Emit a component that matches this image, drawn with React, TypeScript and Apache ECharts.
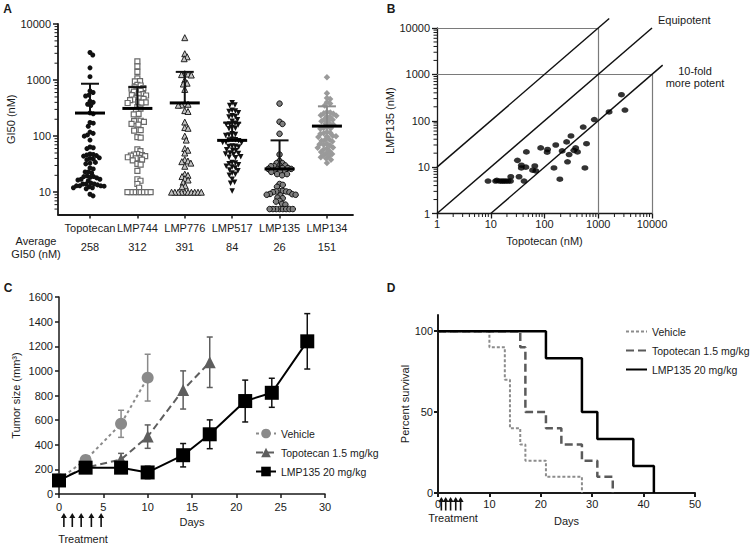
import React, { useEffect, useRef } from 'react';
import * as echarts from 'echarts';

const FONT = '"Liberation Sans", Arial, Helvetica, sans-serif';
const INK = '#1a1a1a';

// ---------- Panel A ----------
const drugNames = ['Topotecan', 'LMP744', 'LMP776', 'LMP517', 'LMP135', 'LMP134'];
const avgGI50 = [258, 312, 391, 84, 26, 151];
const sdUpper = [860, 750, 1400, 174, 84, 340];
const gi50Topotecan = [3100, 2800, 1650, 1150, 640, 600, 540, 520, 420, 400, 370, 350, 260, 250, 175, 170, 150, 118, 112, 105, 100, 85, 64, 62, 60, 48, 47, 46, 45, 44, 41, 40, 39, 38, 34, 33, 32, 27, 26, 23, 23, 22, 19.5, 19, 19, 18.5, 18, 17, 17, 16.5, 16, 14.5, 14, 14, 14, 13.5, 13, 13, 13, 12.8, 12.5, 12, 12, 11.5, 9.2, 8.6];
const gi50LMP744 = [2150, 1750, 1400, 1070, 960, 950, 820, 800, 740, 720, 700, 650, 640, 620, 560, 550, 540, 530, 480, 470, 460, 450, 440, 410, 400, 395, 390, 330, 310, 280, 250, 245, 190, 188, 185, 180, 165, 160, 130, 128, 125, 96, 94, 58, 54, 48, 47, 46, 45, 44, 42, 41, 40, 38, 37, 32, 31, 24, 17, 16, 14, 12, 10, 10, 10, 10, 10, 10, 10, 10];
const gi50LMP776 = [5700, 2950, 2600, 2400, 1300, 1280, 1250, 1230, 1000, 880, 850, 680, 380, 370, 360, 355, 285, 275, 178, 142, 138, 100, 85, 60, 56, 50, 38, 36, 35, 33, 29, 21, 20, 19, 17.5, 16.5, 15, 13, 12.5, 10, 10, 10, 10, 10, 10, 10, 10, 10, 10];
const gi50LMP517 = [395, 360, 350, 290, 280, 275, 260, 230, 225, 220, 195, 185, 170, 165, 162, 158, 142, 138, 135, 110, 107, 105, 103, 88, 86, 85, 83, 78, 77, 76, 67, 66, 65, 64, 57, 56, 55, 50, 49, 48, 47, 43, 42, 41, 34, 33, 32, 31, 29, 28, 27, 25, 24, 22, 21, 20, 17, 15, 14.5, 10.5];
const gi50LMP135 = [380, 180, 165, 110, 47, 36, 33, 33, 30, 30, 29, 29, 27, 27, 26, 26, 26, 24, 24, 23, 23, 21, 21, 20, 14, 13.5, 12.5, 10.5, 10.5, 10.3, 10.3, 10, 10, 9.3, 9.2, 9, 9, 8.8, 8, 7.8, 7, 6.8, 6.2, 6, 5, 5, 5, 5, 5, 5, 5, 5];
const gi50LMP134 = [1120, 580, 480, 460, 400, 380, 350, 270, 265, 255, 250, 235, 230, 225, 220, 200, 195, 190, 185, 168, 165, 160, 142, 140, 138, 135, 118, 115, 112, 110, 102, 100, 98, 96, 87, 85, 83, 80, 73, 72, 70, 68, 63, 62, 60, 58, 54, 52, 50, 48, 46, 44, 42, 40, 38, 33];
const gi50Groups = [gi50Topotecan, gi50LMP744, gi50LMP776, gi50LMP517, gi50LMP135, gi50LMP134];
const decadeTicksA = [10, 100, 1000, 10000];
const minorTicksA = [5, 6, 7, 8, 9, 20, 30, 40, 50, 60, 70, 80, 90, 200, 300, 400, 500, 600, 700, 800, 900, 2000, 3000, 4000, 5000, 6000, 7000, 8000, 9000];

// ---------- Panel B ----------
const topotecanNM = [8.9, 12.3, 13, 14.6, 16, 17.4, 19, 21, 23.3, 23.6, 33.6, 31.4, 37, 37.2, 41.7, 45, 46, 60, 69, 66, 85, 112, 114, 150, 162, 193, 213, 258, 268, 287, 311, 352, 380, 411, 525, 565, 605, 845, 1590, 2700, 3140];
const lmp135NM = [5, 5, 5.2, 5, 5, 5, 5, 5, 5, 6.2, 6.2, 14, 9.6, 11, 5, 10, 21.3, 8.6, 8.3, 10.6, 26, 21, 24, 9.6, 30, 5.5, 22.4, 35, 13, 18.7, 47, 23, 26, 21.3, 73, 9.6, 32, 106, 155, 365, 170];
const decadeTicksB = [1, 10, 100, 1000, 10000];
const minorTicksB = [2, 3, 4, 5, 6, 7, 8, 9, 20, 30, 40, 50, 60, 70, 80, 90, 200, 300, 400, 500, 600, 700, 800, 900, 2000, 3000, 4000, 5000, 6000, 7000, 8000, 9000];
const refLinesB = [
  [[1, 1000], [10000, 1000]],
  [[1000, 1], [1000, 10000]],
  [[1, 10000], [1000, 10000]],
  [[10000, 1], [10000, 1000]],
];
const diagonalsB = [
  [[1, 10], [1600, 16000]],
  [[1, 1], [10000, 10000]],
  [[10, 1], [15800, 1580]],
];

// ---------- Panel C ----------
const tumorSeriesNames = ['Vehicle', 'Topotecan 1.5 mg/kg', 'LMP135 20 mg/kg'];
const vehicleDays = [0, 3, 7, 10];
const vehicleMean = [120, 276, 570, 945];
const vehicleErr = [15, 30, 110, 190];
const topoDays = [0, 3, 7, 10, 14, 17];
const topoMean = [120, 214, 280, 466, 845, 1070];
const topoErr = [15, 20, 50, 95, 155, 205];
const lmpDays = [0, 3, 7, 10, 14, 17, 21, 24, 28];
const lmpMean = [110, 214, 214, 175, 315, 485, 755, 822, 1240];
const lmpErr = [15, 20, 30, 50, 95, 117, 170, 118, 225];
const treatmentDays = [0.55, 1.5, 2.5, 3.65, 4.75];

// ---------- Panel D ----------
const vehicleSurvDays = [0, 10, 13, 14, 16, 17, 21, 28];
const vehicleSurv = [100, 90, 70, 40, 30, 20, 10, 0];
const topoSurvDays = [0, 16, 17, 21, 24, 28, 31, 34];
const topoSurv = [100, 90, 50, 40, 30, 20, 10, 0];
const lmpSurvDays = [0, 21, 28, 31, 38, 42];
const lmpSurv = [100, 83.3, 50, 33.3, 16.7, 0];
const treatmentDaysD = [0.65, 1.5, 2.45, 3.45, 4.4];
const survTicks = [0, 50, 100];

// beeswarm x-offsets (layout only), in category units; elliptical collision rx/ry in px
function swarm(values: number[], pxPerDecade: number, pxPerUnit: number, rx: number, ry: number): number[] {
  const order = values.map((_, i) => i).sort((a, b) => values[b] - values[a]);
  const placed: { x: number; y: number }[] = [];
  const out: number[] = new Array(values.length).fill(0);
  const hit = (p: { x: number; y: number }, x: number, y: number) =>
    ((p.x - x) / rx) ** 2 + ((p.y - y) / ry) ** 2 < 0.999;
  for (const i of order) {
    const y = Math.log10(values[i]) * pxPerDecade;
    const cands = [0];
    for (const p of placed) {
      const dy = Math.abs(p.y - y);
      if (dy < ry) {
        const dx = rx * Math.sqrt(1 - (dy / ry) ** 2);
        cands.push(p.x + dx + 0.01, p.x - dx - 0.01);
      }
    }
    cands.sort((a, b) => Math.abs(a) - Math.abs(b));
    let x = 0;
    for (const c of cands) {
      if (placed.every((p) => !hit(p, c, y))) {
        x = c;
        break;
      }
    }
    placed.push({ x, y });
    out[i] = x / pxPerUnit;
  }
  return out;
}

const zip = (a: number[], b: number[]) => a.map((v, i) => [v, b[i]]);
const zip3 = (a: number[], b: number[], c: number[]) => a.map((v, i) => [v, b[i], c[i]]);

const axisBase = (w = 1.5) => ({
  axisLine: { show: true, onZero: false, lineStyle: { color: INK, width: w } },
  axisTick: { show: true, length: 4, lineStyle: { color: INK, width: w } },
  axisLabel: { color: INK, fontSize: 11, fontFamily: FONT },
  splitLine: { show: false },
  nameTextStyle: { color: INK, fontSize: 11, fontFamily: FONT },
});

// minor log ticks drawn through the axis scale
const minorTickSeries = (xi: number, yi: number, values: number[], dir: 'x' | 'y', base: number) => ({
  type: 'custom',
  xAxisIndex: xi,
  yAxisIndex: yi,
  clip: false,
  silent: true,
  z: 1,
  data: values.map((v) => (dir === 'y' ? [base, v] : [v, base])),
  encode: { x: 0, y: 1 },
  renderItem: (params: any, api: any) => {
    const p = api.coord([api.value(0), api.value(1)]);
    return dir === 'y'
      ? { type: 'line', shape: { x1: p[0] - 3.5, y1: p[1], x2: p[0], y2: p[1] }, style: { stroke: INK, lineWidth: 1 } }
      : { type: 'line', shape: { x1: p[0], y1: p[1], x2: p[0], y2: p[1] + 3.5 }, style: { stroke: INK, lineWidth: 1 } };
  },
});

export default function App() {
  const ref = useRef<HTMLDivElement>(null);
  useEffect(() => {
    if (!ref.current) return;
    const chart = echarts.init(ref.current, null, { renderer: 'svg', width: 750, height: 545 });

    const groupStyles = [
      { symbol: 'circle', size: 5, color: '#111', border: '#111', bw: 0, rot: 0 },
      { symbol: 'rect', size: 5, color: '#fff', border: '#6a6a6a', bw: 1.2, rot: 0 },
      { symbol: 'triangle', size: 6, color: '#c4c4c4', border: '#222', bw: 1, rot: 0 },
      { symbol: 'triangle', size: 5.5, color: '#111', border: '#111', bw: 0, rot: 180 },
      { symbol: 'circle', size: 5.5, color: '#808080', border: '#111', bw: 1, rot: 0 },
      { symbol: 'diamond', size: 6.5, color: '#9a9a9a', border: '#9a9a9a', bw: 0, rot: 0 },
    ];

    const scatterA = gi50Groups.map((vals, gi) => {
      const offs = swarm(vals, 56, 47.4, 3.3, 4.4);
      const st = groupStyles[gi];
      return {
        type: 'scatter',
        xAxisIndex: 0,
        yAxisIndex: 0,
        symbol: st.symbol,
        symbolSize: st.size,
        symbolRotate: st.rot,
        itemStyle: { color: st.color, borderColor: st.border, borderWidth: st.bw, opacity: 1 },
        data: vals.map((v, i) => [gi + offs[i], v]),
        z: 3,
      };
    });

    const errA = {
      type: 'custom',
      xAxisIndex: 0,
      yAxisIndex: 0,
      z: 5,
      clip: false,
      data: drugNames.map((_, i) => [i, avgGI50[i], sdUpper[i]]),
      encode: { x: 0, y: 1 },
      renderItem: (params: any, api: any) => {
        const i = api.value(0);
        const pm = api.coord([i, api.value(1)]);
        const pu = api.coord([i, api.value(2)]);
        const c = i === 5 ? '#8c8c8c' : '#111';
        return {
          type: 'group',
          children: [
            { type: 'line', shape: { x1: pm[0], y1: pm[1], x2: pu[0], y2: pu[1] }, style: { stroke: c, lineWidth: 2 } },
            { type: 'line', shape: { x1: pu[0] - 9, y1: pu[1], x2: pu[0] + 9, y2: pu[1] }, style: { stroke: c, lineWidth: 2 } },
            { type: 'line', shape: { x1: pm[0] - 15, y1: pm[1], x2: pm[0] + 15, y2: pm[1] }, style: { stroke: '#000', lineWidth: 3 } },
          ],
        };
      },
    };

    const errSeries = (days: number[], mean: number[], err: number[], color: string) => ({
      type: 'custom',
      xAxisIndex: 2,
      yAxisIndex: 2,
      z: 2,
      clip: false,
      data: zip3(days, mean, err),
      encode: { x: 0, y: 1 },
      renderItem: (params: any, api: any) => {
        const x = api.value(0), m = api.value(1), e = api.value(2);
        const top = api.coord([x, m + e]);
        const bot = api.coord([x, m - e]);
        return {
          type: 'group',
          children: [
            { type: 'line', shape: { x1: top[0], y1: top[1], x2: bot[0], y2: bot[1] }, style: { stroke: color, lineWidth: 1.5 } },
            { type: 'line', shape: { x1: top[0] - 3, y1: top[1], x2: top[0] + 3, y2: top[1] }, style: { stroke: color, lineWidth: 1.5 } },
            { type: 'line', shape: { x1: bot[0] - 3, y1: bot[1], x2: bot[0] + 3, y2: bot[1] }, style: { stroke: color, lineWidth: 1.5 } },
          ],
        };
      },
    });

    const arrowSeries = (xi: number, yi: number, days: number[], top: number, bottom: number) => ({
      type: 'custom',
      xAxisIndex: xi,
      yAxisIndex: yi,
      clip: false,
      z: 10,
      data: days.map((d) => [d, 0]),
      encode: { x: 0, y: 1 },
      renderItem: (params: any, api: any) => {
        const p = api.coord([api.value(0), 0]);
        const x = p[0], y = p[1];
        return {
          type: 'group',
          children: [
            { type: 'line', shape: { x1: x, y1: y + top + 3, x2: x, y2: y + bottom }, style: { stroke: '#111', lineWidth: 1.6 } },
            { type: 'polygon', shape: { points: [[x, y + top], [x - 3, y + top + 5], [x + 3, y + top + 5]] }, style: { fill: '#111' } },
          ],
        };
      },
    });

    const option: any = {
      animation: false,
      backgroundColor: '#fff',
      textStyle: { fontFamily: FONT },
      grid: [
        { left: 58, top: 24, width: 295, height: 190.5 },
        { left: 437, top: 28, width: 215, height: 185.5 },
        { left: 59, top: 297, width: 266, height: 197 },
        { left: 438, top: 315, width: 257, height: 178 },
      ],
      xAxis: [
        {
          ...axisBase(1.8),
          gridIndex: 0,
          type: 'value',
          min: -0.675,
          max: 5.55,
          axisTick: { show: true, length: 4, customValues: drugNames.map((_, i) => i), lineStyle: { color: INK, width: 1.5 } },
          axisLabel: {
            customValues: drugNames.map((_, i) => i),
            margin: 6,
            formatter: (v: number) => `{n|${drugNames[Math.round(v)]}}\n{m|${avgGI50[Math.round(v)]}}`,
            rich: {
              n: { fontSize: 11, lineHeight: 14, fontFamily: FONT, color: INK },
              m: { fontSize: 11, lineHeight: 24, fontFamily: FONT, color: INK },
            },
          },
        },
        {
          ...axisBase(1.3),
          gridIndex: 1,
          type: 'log',
          logBase: 10,
          min: 1,
          max: 10000,
          name: 'Topotecan (nM)',
          nameLocation: 'middle',
          nameGap: 22,
          axisTick: { show: true, length: 5, customValues: decadeTicksB, lineStyle: { color: INK, width: 1.3 } },
          axisLabel: { color: INK, fontSize: 11, fontFamily: FONT, margin: 5, customValues: decadeTicksB, formatter: (v: number) => String(v) },
        },
        {
          ...axisBase(1.5),
          gridIndex: 2,
          type: 'value',
          min: 0,
          max: 30,
          interval: 5,
          name: 'Days',
          nameLocation: 'middle',
          nameGap: 22,
          axisLabel: { color: INK, fontSize: 11, fontFamily: FONT, margin: 7 },
        },
        {
          ...axisBase(2),
          gridIndex: 3,
          type: 'value',
          min: 0,
          max: 50,
          interval: 10,
          name: 'Days',
          nameLocation: 'middle',
          nameGap: 22,
          axisLabel: { color: INK, fontSize: 11, fontFamily: FONT, margin: 5 },
        },
      ],
      yAxis: [
        {
          ...axisBase(1.8),
          gridIndex: 0,
          type: 'log',
          logBase: 10,
          min: 4,
          max: 10000,
          name: 'GI50 (nM)',
          nameLocation: 'middle',
          nameGap: 38,
          axisTick: { show: true, length: 5, customValues: decadeTicksA, lineStyle: { color: INK, width: 1.5 } },
          axisLabel: { color: INK, fontSize: 11, fontFamily: FONT, margin: 7, customValues: decadeTicksA, formatter: (v: number) => String(v) },
        },
        {
          ...axisBase(1.3),
          gridIndex: 1,
          type: 'log',
          logBase: 10,
          min: 1,
          max: 10000,
          name: 'LMP135 (nM)',
          nameLocation: 'middle',
          nameGap: 25,
          axisTick: { show: true, length: 5, customValues: decadeTicksB, lineStyle: { color: INK, width: 1.3 } },
          axisLabel: { color: INK, fontSize: 11, fontFamily: FONT, margin: 7, customValues: decadeTicksB, formatter: (v: number) => String(v) },
        },
        {
          ...axisBase(1.5),
          gridIndex: 2,
          type: 'value',
          min: 0,
          max: 1600,
          interval: 200,
          name: 'Tumor size (mm³)',
          nameLocation: 'middle',
          nameGap: 38,
          axisLabel: { color: INK, fontSize: 11, fontFamily: FONT, margin: 6, formatter: (v: number) => String(v) },
        },
        {
          ...axisBase(2),
          gridIndex: 3,
          type: 'value',
          min: 0,
          max: 110,
          name: 'Percent survival',
          nameLocation: 'middle',
          nameGap: 24,
          axisTick: { show: true, length: 4, customValues: survTicks, lineStyle: { color: INK, width: 2 } },
          axisLabel: { color: INK, fontSize: 11, fontFamily: FONT, margin: 5, customValues: survTicks },
        },
      ],
      legend: [
        {
          data: tumorSeriesNames,
          orient: 'vertical',
          left: 255,
          top: 428,
          padding: 0,
          itemWidth: 20,
          itemHeight: 12,
          itemGap: 8,
          selectedMode: false,
          textStyle: { color: INK, fontSize: 10.5, fontFamily: FONT },
        },
        {
          data: tumorSeriesNames.map((n) => 'D:' + n),
          orient: 'vertical',
          left: 625,
          top: 326,
          padding: 0,
          itemWidth: 21,
          itemHeight: 10,
          itemGap: 8,
          selectedMode: false,
          formatter: (n: string) => n.replace(/^D:/, ''),
          itemStyle: { color: 'rgba(0,0,0,0)', borderColor: 'rgba(0,0,0,0)', borderWidth: 0 },
          textStyle: { color: INK, fontSize: 10.5, fontFamily: FONT },
        },
      ],
      series: [
        ...scatterA,
        errA,
        minorTickSeries(0, 0, minorTicksA, 'y', -0.675),
        // Panel B
        minorTickSeries(1, 1, minorTicksB, 'y', 1),
        minorTickSeries(1, 1, minorTicksB, 'x', 1),
        {
          type: 'lines',
          coordinateSystem: 'cartesian2d',
          xAxisIndex: 1,
          yAxisIndex: 1,
          clip: false,
          lineStyle: { color: '#7a7a7a', width: 1.2, opacity: 1 },
          data: refLinesB.map((c) => ({ coords: c })),
          z: 1,
        },
        {
          type: 'lines',
          coordinateSystem: 'cartesian2d',
          xAxisIndex: 1,
          yAxisIndex: 1,
          clip: false,
          lineStyle: { color: '#111', width: 1.5, opacity: 1 },
          data: diagonalsB.map((c) => ({ coords: c })),
          z: 2,
        },
        {
          type: 'scatter',
          xAxisIndex: 1,
          yAxisIndex: 1,
          symbol: 'circle',
          symbolSize: [7, 5.5],
          itemStyle: { color: '#000' },
          data: zip(topotecanNM, lmp135NM),
          z: 3,
        },
        // Panel C
        errSeries(vehicleDays, vehicleMean, vehicleErr, '#8a8a8a'),
        errSeries(topoDays, topoMean, topoErr, '#5e5e5e'),
        errSeries(lmpDays, lmpMean, lmpErr, '#111'),
        {
          name: tumorSeriesNames[0],
          type: 'line',
          xAxisIndex: 2,
          yAxisIndex: 2,
          symbol: 'circle',
          symbolSize: 12,
          color: '#8a8a8a',
          itemStyle: { color: '#8a8a8a' },
          lineStyle: { color: '#8a8a8a', width: 2, type: [3, 3] },
          data: zip(vehicleDays, vehicleMean),
          z: 4,
        },
        {
          name: tumorSeriesNames[1],
          type: 'line',
          xAxisIndex: 2,
          yAxisIndex: 2,
          symbol: 'triangle',
          symbolSize: 12,
          color: '#5e5e5e',
          itemStyle: { color: '#5e5e5e' },
          lineStyle: { color: '#5e5e5e', width: 2, type: [7, 4] },
          data: zip(topoDays, topoMean),
          z: 4,
        },
        {
          name: tumorSeriesNames[2],
          type: 'line',
          xAxisIndex: 2,
          yAxisIndex: 2,
          symbol: 'rect',
          symbolSize: 14,
          color: '#000',
          itemStyle: { color: '#000' },
          lineStyle: { color: '#000', width: 2 },
          data: zip(lmpDays, lmpMean),
          z: 5,
        },
        arrowSeries(2, 2, treatmentDays, 19, 33),
        // Panel D
        {
          name: 'D:' + tumorSeriesNames[0],
          type: 'line',
          xAxisIndex: 3,
          yAxisIndex: 3,
          step: 'end',
          symbol: 'none',
          color: '#8c8c8c',
          lineStyle: { color: '#8c8c8c', width: 2, type: [3, 2] },
          data: zip(vehicleSurvDays, vehicleSurv),
          z: 3,
        },
        {
          name: 'D:' + tumorSeriesNames[1],
          type: 'line',
          xAxisIndex: 3,
          yAxisIndex: 3,
          step: 'end',
          symbol: 'none',
          color: '#5a5a5a',
          lineStyle: { color: '#5a5a5a', width: 2.5, type: [8, 4] },
          data: zip(topoSurvDays, topoSurv),
          z: 3,
        },
        {
          name: 'D:' + tumorSeriesNames[2],
          type: 'line',
          xAxisIndex: 3,
          yAxisIndex: 3,
          step: 'end',
          symbol: 'none',
          color: '#000',
          lineStyle: { color: '#000', width: 2.5 },
          data: zip(lmpSurvDays, lmpSurv),
          z: 4,
        },
        arrowSeries(3, 3, treatmentDaysD, 4, 17.5),
      ],
      graphic: [
        { type: 'text', x: 7.5, y: 8.5, style: { text: 'A', font: `bold 12px ${FONT}`, fill: INK, textAlign: 'center', textVerticalAlign: 'middle' } },
        { type: 'text', x: 391, y: 9, style: { text: 'B', font: `bold 12px ${FONT}`, fill: INK, textAlign: 'center', textVerticalAlign: 'middle' } },
        { type: 'text', x: 8, y: 287.5, style: { text: 'C', font: `bold 12px ${FONT}`, fill: INK, textAlign: 'center', textVerticalAlign: 'middle' } },
        { type: 'text', x: 391, y: 287.5, style: { text: 'D', font: `bold 12px ${FONT}`, fill: INK, textAlign: 'center', textVerticalAlign: 'middle' } },
        { type: 'text', x: 36, y: 247.5, style: { text: 'Average\nGI50 (nM)', font: `11px ${FONT}`, lineHeight: 13.5, fill: INK, textAlign: 'center', textVerticalAlign: 'middle' } },
        { type: 'text', x: 658, y: 20, style: { text: 'Equipotent', font: `11px ${FONT}`, fill: INK, textAlign: 'left', textVerticalAlign: 'middle' } },
        { type: 'text', x: 695, y: 77, style: { text: '10-fold\nmore potent', font: `11px ${FONT}`, lineHeight: 12.5, fill: INK, textAlign: 'center', textVerticalAlign: 'middle' } },
        { type: 'text', x: 83, y: 539, style: { text: 'Treatment', font: `11px ${FONT}`, fill: INK, textAlign: 'center', textVerticalAlign: 'middle' } },
        { type: 'text', x: 453, y: 518, style: { text: 'Treatment', font: `11px ${FONT}`, fill: INK, textAlign: 'center', textVerticalAlign: 'middle' } },
      ],
    };

    chart.setOption(option);
    return () => chart.dispose();
  }, []);

  return (
    <div
      ref={ref}
      style={{ position: 'absolute', left: 0, top: 0, width: 750, height: 545, background: '#fff' }}
    />
  );
}
